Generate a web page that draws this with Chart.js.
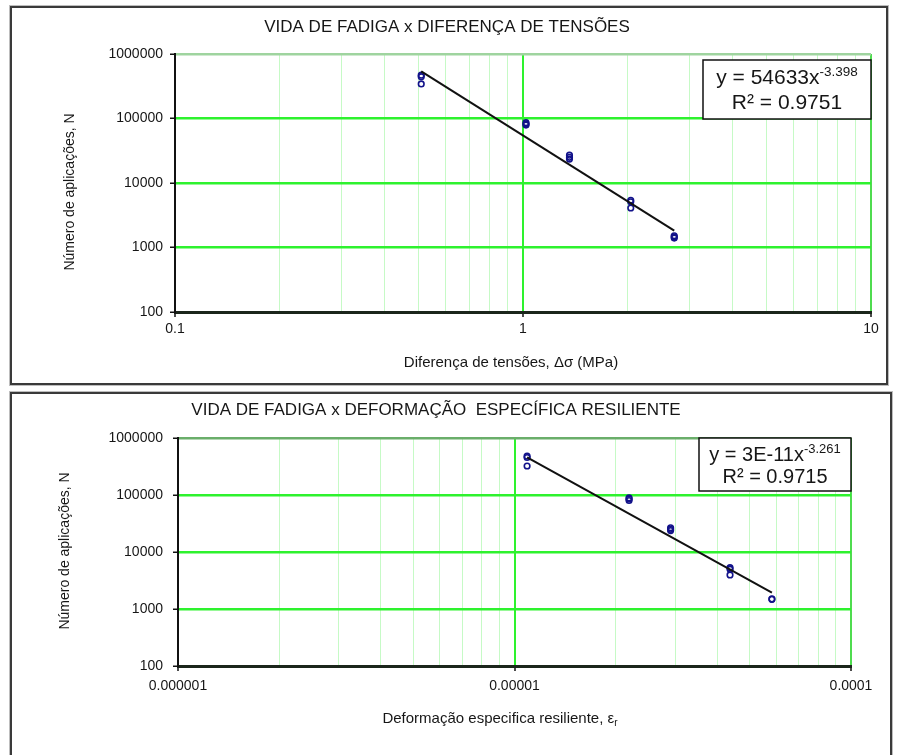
<!DOCTYPE html>
<html lang="pt">
<head>
<meta charset="utf-8">
<title>Vida de fadiga</title>
<script src="https://cdn.jsdelivr.net/npm/chart.js@4.4.1/dist/chart.umd.min.js"></script>
<style>
  html, body { margin: 0; padding: 0; background: #fff; }
  body { width: 897px; height: 755px; position: relative; overflow: hidden; }
  .frame { position: absolute; box-sizing: border-box; border: 2px solid #3a3a3a; box-shadow: 0 0 0 1px #bdbdbd; }
  #frameTop { left: 10px; top: 6px; width: 878px; height: 379px; }
  #frameBottom { left: 10px; top: 392px; width: 882px; height: 380px; }
  canvas { position: absolute; left: 0; }
  #fatigueStress { top: 0; }
  #fatigueStrain { top: 390px; }
</style>
</head>
<body>
<div class="frame" id="frameTop"></div>
<div class="frame" id="frameBottom"></div>
<canvas id="fatigueStress" width="897" height="390"></canvas>
<canvas id="fatigueStrain" width="897" height="365"></canvas>
<script>
// Ensaios de fadiga: diferença de tensões (MPa) x número de aplicações até a ruptura
const stressDiff   = [0.51, 0.51, 0.51, 1.02, 1.02, 1.02, 1.36, 1.36, 1.36, 2.04, 2.04, 2.04, 2.72, 2.72, 2.72];
const stressCycles = [470000, 445000, 343000, 86000, 82000, 79000, 27000, 25000, 23500, 5400, 5100, 4100, 1520, 1450, 1400];

// Deformação específica resiliente x número de aplicações
const strainValues = [1.09e-5, 1.09e-5, 1.09e-5, 2.19e-5, 2.19e-5, 2.19e-5, 2.91e-5, 2.91e-5, 2.91e-5, 4.37e-5, 4.37e-5, 4.37e-5, 5.82e-5, 5.82e-5];
const strainCycles = [480000, 455000, 323000, 89000, 85000, 80000, 26500, 25000, 23800, 5300, 5000, 3960, 1500, 1480];

// Linhas de tendência do tipo potência: N = a * x^b
const stressTrend = [54633, -3.398, 0.9751];   // a, b, R²
const strainTrend = [3e-11, -3.261, 0.9715];   // a, b, R²

// Rótulos dos eixos (décadas)
const stressTickLabels = ['0.1', '1', '10'];
const strainTickLabels = ['0.000001', '0.00001', '0.0001'];
const cycleTickLabels  = ['100', '1000', '10000', '100000', '1000000'];

const FONT = '"Liberation Sans", Arial, Helvetica, sans-serif';
const INK = '#161616';

const isDecade = v => Math.abs(Math.log10(v) - Math.round(Math.log10(v))) < 1e-6;

function logTickValues(decades, withMinor) {
  const out = [];
  decades.forEach((d, i) => {
    out.push(d);
    if (withMinor && i < decades.length - 1) {
      for (let k = 2; k <= 9; k++) out.push(Number((d * k).toPrecision(6)));
    }
  });
  return out.sort((a, b) => a - b);
}

function formatCoef(a) {
  return a < 1e-3 ? a.toExponential().replace('e', 'E').replace('+', '') : String(a);
}

function trendPoints(xs, trend) {
  const lo = Math.min(...xs), hi = Math.max(...xs);
  return [lo, hi].map(x => ({ x, y: trend[0] * Math.pow(x, trend[1]) }));
}

function axisOptions(o) {
  const decades = o.labels.map(Number);
  const values = logTickValues(decades, o.minor);
  const first = decades[0], last = decades[decades.length - 1];
  return {
    type: 'logarithmic',
    position: o.position,
    min: first,
    max: last,
    afterBuildTicks: s => { s.ticks = values.map(v => ({ value: v, major: isDecade(v) })); },
    afterFit: s => { if (o.position === 'bottom') s.height = o.size; else s.width = o.size; },
    ticks: {
      autoSkip: false,
      maxRotation: 0,
      minRotation: 0,
      padding: o.tickPadding,
      color: INK,
      font: { family: FONT, size: 14 },
      callback: v => {
        const i = decades.findIndex(d => Math.abs(d - v) / d < 1e-6);
        return i >= 0 ? o.labels[i] : '';
      }
    },
    grid: {
      drawTicks: true,
      tickLength: 5,
      tickWidth: 1.5,
      tickColor: c => (c.tick && isDecade(c.tick.value) ? '#111' : 'rgba(0,0,0,0)'),
      color: c => {
        const v = c.tick ? c.tick.value : 0;
        if (Math.abs(v - last) / last < 1e-6) return o.edgeColor;
        return isDecade(v) ? '#2ef22e' : '#c6fac6';
      },
      lineWidth: c => {
        const v = c.tick ? c.tick.value : 0;
        if (isDecade(v)) return o.majorWidth;
        return 1;
      }
    },
    border: { display: true, color: o.borderColor, width: o.borderWidth }
  };
}

// Desenha sequências de texto (com sobrescrito/subscrito) centradas em (cx, cy)
function drawRuns(ctx, runs, cx, cy) {
  let total = 0;
  runs.forEach(r => { ctx.font = `${r.size}px ${FONT}`; r.w = ctx.measureText(r.text).width; total += r.w; });
  let x = cx - total / 2;
  ctx.textAlign = 'left';
  ctx.textBaseline = 'middle';
  runs.forEach(r => {
    ctx.font = `${r.size}px ${FONT}`;
    ctx.fillText(r.text, x, cy + (r.dy || 0));
    x += r.w;
  });
}

const panelText = {
  id: 'panelText',
  afterDraw(chart, args, opts) {
    const ctx = chart.ctx;
    const area = chart.chartArea;
    ctx.save();
    ctx.fillStyle = INK;

    // título
    drawRuns(ctx, [{ text: opts.title, size: 17 }], opts.titleX, opts.titleY);
    // título do eixo x
    drawRuns(ctx, opts.xTitle, opts.xTitleX, opts.xTitleY);
    // título do eixo y (vertical)
    ctx.save();
    ctx.translate(opts.yTitleX, opts.yTitleY);
    ctx.rotate(-Math.PI / 2);
    drawRuns(ctx, [{ text: opts.yTitle, size: 14 }], 0, 0);
    ctx.restore();

    // caixa com a equação da linha de tendência
    const b = opts.box;
    const bx = area.right - b.w, by = area.top + b.dy;
    ctx.fillStyle = '#fff';
    ctx.fillRect(bx, by, b.w, b.h);
    ctx.strokeStyle = '#111';
    ctx.lineWidth = 1.5;
    ctx.strokeRect(bx, by, b.w, b.h);
    ctx.fillStyle = INK;
    const t = opts.trend;
    drawRuns(ctx, [
      { text: `y = ${formatCoef(t[0])}x`, size: b.size },
      { text: t[1].toFixed(3), size: b.supSize, dy: -b.supRaise }
    ], bx + b.w / 2, by + b.line1);
    drawRuns(ctx, [{ text: `R² = ${t[2].toFixed(4)}`, size: b.size }], bx + b.w / 2, by + b.line2);
    ctx.restore();
  }
};

function makeChart(id, cfg) {
  const points = cfg.xs.map((x, i) => ({ x, y: cfg.ys[i] }));
  return new Chart(document.getElementById(id), {
    type: 'scatter',
    data: {
      datasets: [
        {
          label: 'Tendência',
          data: trendPoints(cfg.xs, cfg.trend),
          showLine: true,
          borderColor: '#111',
          borderWidth: 2,
          pointRadius: 0,
          order: 0
        },
        {
          label: 'Ensaios',
          data: points,
          pointStyle: 'circle',
          pointRadius: 2.8,
          pointBorderWidth: 1.6,
          borderColor: '#12128a',
          backgroundColor: 'rgba(0,0,0,0)',
          order: 1
        }
      ]
    },
    options: {
      responsive: false,
      animation: false,
      devicePixelRatio: 1,
      layout: { padding: cfg.padding },
      plugins: {
        legend: { display: false },
        tooltip: { enabled: false },
        title: { display: false },
        panelText: cfg.text
      },
      scales: {
        x: axisOptions(cfg.xAxis),
        y: axisOptions(cfg.yAxis)
      }
    },
    plugins: [panelText]
  });
}

makeChart('fatigueStress', {
  xs: stressDiff,
  ys: stressCycles,
  trend: stressTrend,
  padding: { left: 100, right: 26, top: 54, bottom: 38 },
  xAxis: { position: 'bottom', labels: stressTickLabels, minor: true, size: 40, tickPadding: 4,
           edgeColor: '#4fdc4f', majorWidth: 2, borderColor: '#1b261b', borderWidth: 3 },
  yAxis: { position: 'left', labels: cycleTickLabels, minor: false, size: 75, tickPadding: 7,
           edgeColor: '#9fd49f', majorWidth: 2.5, borderColor: '#111', borderWidth: 2 },
  text: {
    title: 'VIDA DE FADIGA x DIFERENÇA DE TENSÕES', titleX: 447, titleY: 27,
    xTitle: [{ text: 'Diferença de tensões, Δσ (MPa)', size: 15 }], xTitleX: 511, xTitleY: 363,
    yTitle: 'Número de aplicações, N', yTitleX: 70, yTitleY: 192,
    trend: stressTrend,
    box: { w: 168, h: 59, dy: 6, size: 21, supSize: 13.5, supRaise: 6, line1: 18, line2: 43 }
  }
});

makeChart('fatigueStrain', {
  xs: strainValues,
  ys: strainCycles,
  trend: strainTrend,
  padding: { left: 100, right: 46, top: 48, bottom: 49 },
  xAxis: { position: 'bottom', labels: strainTickLabels, minor: true, size: 40, tickPadding: 7,
           edgeColor: '#4fdc4f', majorWidth: 2, borderColor: '#1b261b', borderWidth: 3 },
  yAxis: { position: 'left', labels: cycleTickLabels, minor: false, size: 78, tickPadding: 10,
           edgeColor: '#6aae6a', majorWidth: 2.5, borderColor: '#111', borderWidth: 2 },
  text: {
    title: 'VIDA DE FADIGA x DEFORMAÇÃO  ESPECÍFICA RESILIENTE', titleX: 436, titleY: 20,
    xTitle: [
      { text: 'Deformação especifica resiliente, ε', size: 15 },
      { text: 'r', size: 10, dy: 4 }
    ], xTitleX: 500, xTitleY: 329,
    yTitle: 'Número de aplicações, N', yTitleX: 65, yTitleY: 161,
    trend: strainTrend,
    box: { w: 152, h: 53, dy: 0, size: 20, supSize: 13, supRaise: 6, line1: 17, line2: 39 }
  }
});
</script>
</body>
</html>
